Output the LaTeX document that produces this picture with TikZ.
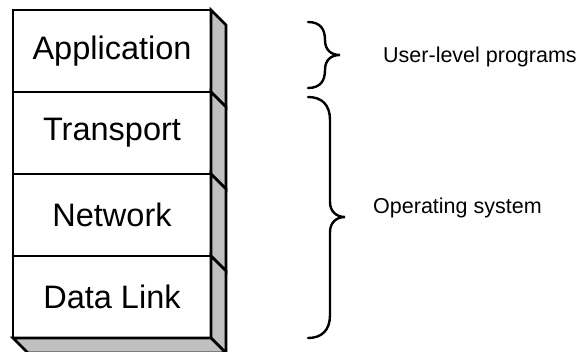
\documentclass[tikz,border=0pt]{standalone}
\usepackage{fontspec}
\setmainfont{Liberation Sans}
\definecolor{sidegray}{HTML}{C0C0C0}
\begin{document}
\begin{tikzpicture}[x=1pt,y=-1pt,
  layer/.style={draw,line width=2.8pt,fill=white,minimum width=198pt,minimum height=82pt,
    inner sep=0pt,outer sep=0pt,font=\fontsize{32.5}{38}\selectfont},
  side/.style={draw,line width=2.8pt,fill=sidegray,line join=miter},
  bracepath/.style={draw,line width=2.4pt,line cap=round},
  label/.style={anchor=base west,inner sep=0pt,font=\fontsize{21.5}{26}\selectfont}]
\useasboundingbox (0,0) rectangle (577,351);
\clip (0,0) rectangle (577,351);

% protocol layers, top to bottom
\node[layer] (app)   at (112,51)  {Application};
\node[layer] (trans) at (112,133) {Transport};
\node[layer] (net)   at (112,215) {Network};
\node[layer] (dl)    at (112,297) {Data Link};

% right-hand side faces of each layer
\foreach \n in {app,trans,net,dl}{
  \path[side] (\n.north east) -- ([shift={(15pt,-15pt)}]\n.north east)
    -- ([shift={(15pt,-15pt)}]\n.south east) -- (\n.south east) -- cycle;
}
% bottom face of the stack
\path[side] (dl.south west) -- ([shift={(15pt,-15pt)}]dl.south west)
  -- ([shift={(15pt,-15pt)}]dl.south east) -- (dl.south east) -- cycle;

% braces
\path[bracepath] (308,22) .. controls (321,22) and (325,30) .. (325,40)
  .. controls (325,50) and (331,55) .. (340,55)
  .. controls (331,55) and (325,60) .. (325,70)
  .. controls (325,80) and (321,88) .. (308,88);
\path[bracepath] (308,97) .. controls (322,97) and (330,105) .. (330,120)
  -- (330,202) .. controls (330,211) and (336,217) .. (345,217)
  .. controls (336,217) and (330,223) .. (330,232)
  -- (330,315) .. controls (330,330) and (322,338) .. (308,338);

% labels
\node[label] (user) at (383,62) {User-level programs};
\node[label] (os)   at (373,213) {Operating system};
\end{tikzpicture}
\end{document}
